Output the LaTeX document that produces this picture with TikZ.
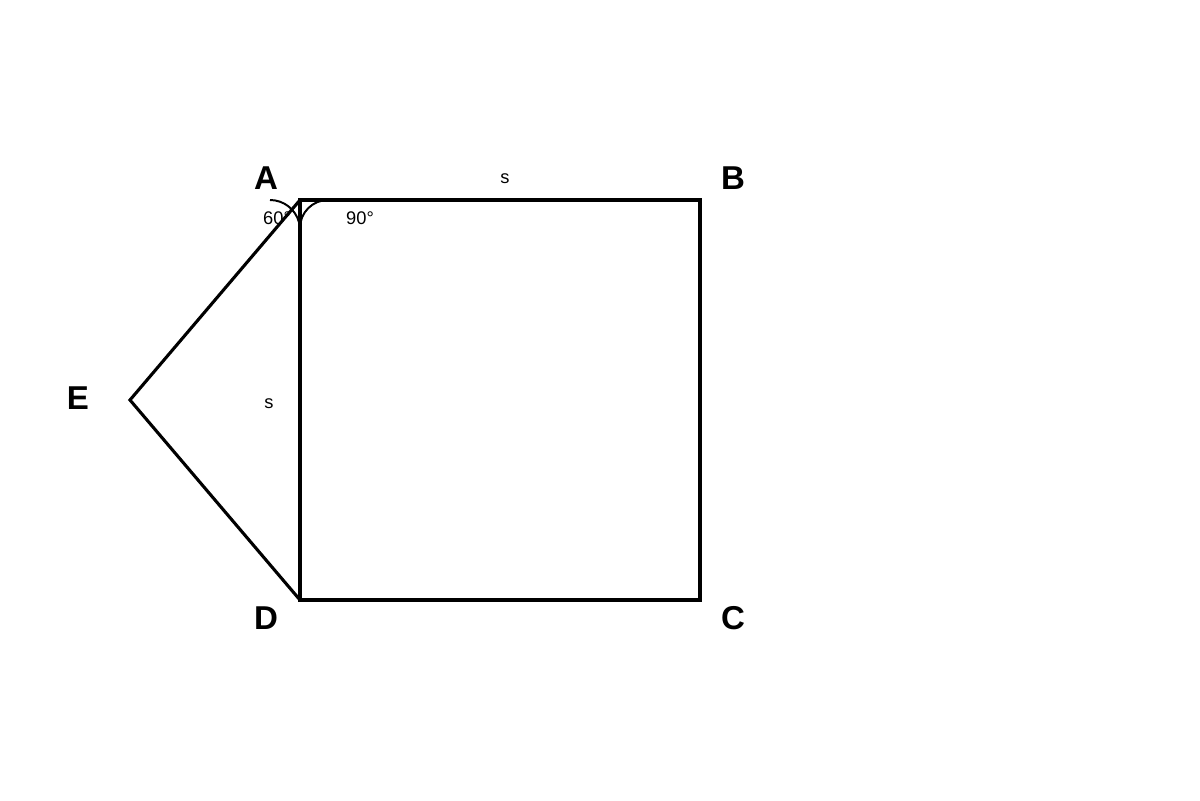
\documentclass[tikz,border=0pt]{standalone}
\usepackage{fontspec}
\setmainfont{Liberation Sans}
\begin{document}
\begin{tikzpicture}[x=0.025cm,y=-0.025cm,
  edge/.style={line width=2.2pt,line join=miter},
  arcline/.style={line width=1.4pt},
  vlabel/.style={font=\fontsize{23.5}{27}\selectfont\bfseries,inner sep=0pt},
  slabel/.style={font=\fontsize{13}{15}\selectfont,inner sep=0pt}]
\useasboundingbox (0,0) rectangle (1200,800);
\coordinate (A) at (300,200);
\coordinate (B) at (700,200);
\coordinate (C) at (700,600);
\coordinate (D) at (300,600);
\coordinate (E) at (130,400);
\node[slabel] (a60) at (277,218) {60°};
\node[slabel] (a90) at (360,218) {90°};
\node[slabel] (sab) at (505,179) {s};
\node[slabel] (sad) at (269,404) {s};
\draw[edge] (A) -- (B) -- (C) -- (D) -- cycle;
\draw[edge] (D) -- (E) -- (A);
\draw[arcline] (270,200) arc[start angle=-90,end angle=-15,radius=30];
\draw[arcline] (300,228) arc[start angle=180,end angle=270,radius=28];
\node[vlabel] (lA) at (266,178) {A};
\node[vlabel] (lB) at (733,178) {B};
\node[vlabel] (lC) at (733,618) {C};
\node[vlabel] (lD) at (266,618) {D};
\node[vlabel] (lE) at (78,398) {E};
\end{tikzpicture}
\end{document}
